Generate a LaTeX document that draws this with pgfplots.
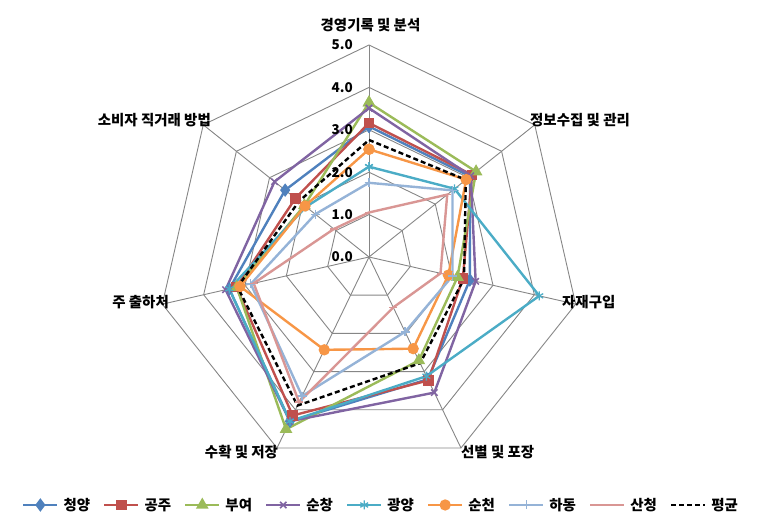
\documentclass[border=0pt]{standalone}
\usepackage{fontspec}
\setmainfont{Noto Sans CJK KR}
\usepackage{pgfplots}
\usepackage{pgfplotstable}
\pgfplotsset{compat=1.18}
\definecolor{cQY}{HTML}{4F81BD}
\definecolor{cGJ}{HTML}{C0504D}
\definecolor{cBY}{HTML}{9BBB59}
\definecolor{cSC}{HTML}{8064A2}
\definecolor{cGY}{HTML}{4BACC6}
\definecolor{cCC}{HTML}{F79646}
\definecolor{cHD}{HTML}{95B3D7}
\definecolor{cSA}{HTML}{D99694}
\definecolor{gridc}{HTML}{868686}
\pgfplotstableread{
ang      cy    gj    by    sc    gy    cc    hd    sa    av
90       3.08  3.16  3.64  3.51  2.13  2.54  1.75  1.05  2.76
38.571   3.05  3.11  3.23  3.07  2.58  2.93  2.52  2.36  2.92
-12.857  2.44  2.27  2.14  2.58  4.12  1.92  2.02  1.73  2.30
-64.286  3.20  3.23  2.71  3.55  3.12  2.40  1.96  1.32  2.78
-115.714 4.30  4.15  4.51  4.30  4.30  2.43  3.64  3.80  3.89
-167.143 3.38  3.21  3.20  3.47  3.38  3.12  2.86  2.79  3.18
-218.571 2.53  2.22  1.95  2.85  1.90  1.93  1.62  1.06  2.11
-270     3.08  3.16  3.64  3.51  2.13  2.54  1.75  1.05  2.76
}\data
\newcommand{\lbl}{\bfseries\fontsize{14.5}{16}\selectfont}
\newcommand{\tkl}{\bfseries\fontsize{13.5}{15}\selectfont}
\begin{document}
\begin{tikzpicture}
\useasboundingbox (0,0) rectangle (759bp,532bp);
\begin{axis}[
  x=42.4bp, y=42.4bp, xmin=-6, xmax=6, ymin=-6, ymax=6,
  hide axis, clip=false,
  at={(369bp,275bp)}, anchor=center,
  legend columns=9,
  legend style={draw=none, fill=none, at={(0.5236,0.0126)}, anchor=center,
    font=\lbl, column sep=3bp,
    /tikz/every even column/.append style={column sep=11bp}},
  legend image code/.code={\draw[mark repeat=2,mark phase=2,#1] plot coordinates {(0bp,0bp) (17bp,0bp) (34bp,0bp)};},
  every axis plot/.append style={line width=2.4bp},
]
\pgfplotsinvokeforeach{1,2,3,4,5}{
  \addplot[gridc, line width=0.9bp, forget plot] table[x expr={#1*cos(\thisrow{ang})}, y expr={#1*sin(\thisrow{ang})}] {\data};
}
\pgfplotsinvokeforeach{90,38.571,-12.857,-64.286,-115.714,-167.143,-218.571}{
  \draw[gridc, line width=0.9bp] (axis cs:0,0) -- (axis cs:{5*cos(#1)},{5*sin(#1)});
}
\addplot[cQY, mark=diamond*, mark size=4.8bp, mark options={solid}] table[x expr={\thisrow{cy}*cos(\thisrow{ang})}, y expr={\thisrow{cy}*sin(\thisrow{ang})}] {\data};
\addlegendentry{청양}
\addplot[cGJ, mark=square*, mark size=4bp] table[x expr={\thisrow{gj}*cos(\thisrow{ang})}, y expr={\thisrow{gj}*sin(\thisrow{ang})}] {\data};
\addlegendentry{공주}
\addplot[cBY, mark=triangle*, mark size=5bp] table[x expr={\thisrow{by}*cos(\thisrow{ang})}, y expr={\thisrow{by}*sin(\thisrow{ang})}] {\data};
\addlegendentry{부여}
\addplot[cSC, mark=x, mark size=4.5bp, mark options={line width=1.5bp}] table[x expr={\thisrow{sc}*cos(\thisrow{ang})}, y expr={\thisrow{sc}*sin(\thisrow{ang})}] {\data};
\addlegendentry{순창}
\addplot[cGY, mark=asterisk, mark size=4.5bp, mark options={line width=1.3bp}] table[x expr={\thisrow{gy}*cos(\thisrow{ang})}, y expr={\thisrow{gy}*sin(\thisrow{ang})}] {\data};
\addlegendentry{광양}
\addplot[cCC, mark=*, mark size=4.4bp] table[x expr={\thisrow{cc}*cos(\thisrow{ang})}, y expr={\thisrow{cc}*sin(\thisrow{ang})}] {\data};
\addlegendentry{순천}
\addplot[cHD, mark=+, mark size=4.5bp, mark options={line width=1.3bp}] table[x expr={\thisrow{hd}*cos(\thisrow{ang})}, y expr={\thisrow{hd}*sin(\thisrow{ang})}] {\data};
\addlegendentry{하동}
\addplot[cSA, mark=-, mark size=4bp, mark options={line width=1.5bp}] table[x expr={\thisrow{sa}*cos(\thisrow{ang})}, y expr={\thisrow{sa}*sin(\thisrow{ang})}] {\data};
\addlegendentry{산청}
\addplot[black, dash pattern=on 5bp off 3bp] table[x expr={\thisrow{av}*cos(\thisrow{ang})}, y expr={\thisrow{av}*sin(\thisrow{ang})}] {\data};
\addlegendentry{평균}
\pgfplotsinvokeforeach{0,1,2,3,4,5}{
  \node[anchor=east, font=\tkl, inner sep=0pt] at (axis cs:-0.38,#1) {#1.0};
}
\end{axis}
\node[font=\lbl, anchor=center] at (370.5bp,507bp) {경영기록 및 분석};
\node[font=\lbl, anchor=west, inner sep=0pt] at (530bp,412bp) {정보수집 및 관리};
\node[font=\lbl, anchor=west, inner sep=0pt] at (562bp,230bp) {자재구입};
\node[font=\lbl, anchor=west, inner sep=0pt] at (461bp,80bp) {선별 및 포장};
\node[font=\lbl, anchor=center, inner sep=0pt] at (241.5bp,80bp) {수확 및 저장};
\node[font=\lbl, anchor=east, inner sep=0pt] at (169bp,230bp) {주 출하처};
\node[font=\lbl, anchor=east, inner sep=0pt] at (211bp,412bp) {소비자 직거래 방법};
\end{tikzpicture}
\end{document}
